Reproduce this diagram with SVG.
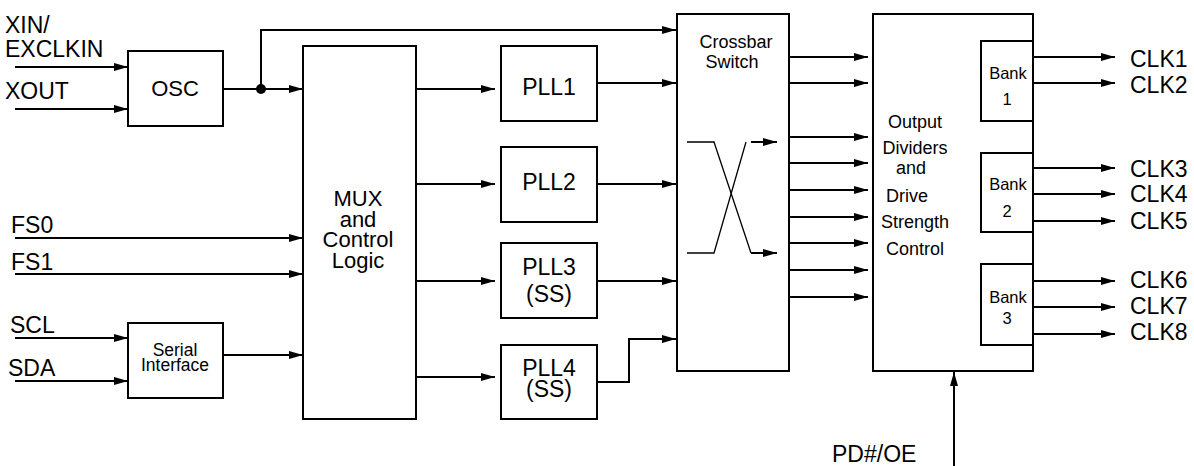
<svg xmlns="http://www.w3.org/2000/svg" width="1194" height="466" viewBox="0 0 1194 466">
<style>
.box{fill:#fff;stroke:#000;stroke-width:2}
.ln{fill:none;stroke:#000;stroke-width:2}
.arr{fill:none;stroke:#000;stroke-width:2;marker-end:url(#ah)}
.thin{fill:none;stroke:#000;stroke-width:1.3}
text{font-family:"Liberation Sans",Arial,sans-serif;fill:#000}
.t23{font-size:23px}
.t22{font-size:22px;text-anchor:middle}
.t18{font-size:18px;text-anchor:middle}
.t17{font-size:16.5px;text-anchor:middle}
</style>
<defs>
<marker id="ah" markerUnits="userSpaceOnUse" markerWidth="14" markerHeight="8" refX="14" refY="4" orient="auto">
<path d="M0,0 L14,4 L0,8 z" fill="#000"/>
</marker>
</defs>
<rect width="1194" height="466" fill="#fff"/>

<g id="labels">
<text class="t23" x="5" y="33">XIN/</text>
<text class="t23" x="5" y="57">EXCLKIN</text>
<text class="t23" x="5" y="99">XOUT</text>
<text class="t23" x="11" y="233">FS0</text>
<text class="t23" x="11" y="270">FS1</text>
<text class="t23" x="10" y="333">SCL</text>
<text class="t23" x="8" y="376">SDA</text>
<text class="t23" x="1130" y="67">CLK1</text>
<text class="t23" x="1130" y="93">CLK2</text>
<text class="t23" x="1130" y="177">CLK3</text>
<text class="t23" x="1130" y="202">CLK4</text>
<text class="t23" x="1130" y="229">CLK5</text>
<text class="t23" x="1130" y="288">CLK6</text>
<text class="t23" x="1130" y="314">CLK7</text>
<text class="t23" x="1130" y="340">CLK8</text>
<text class="t23" x="832" y="462">PD#/OE</text>
</g>

<g id="osc">
<rect class="box" x="128" y="51" width="95" height="75"/>
<text class="t22" x="175" y="96">OSC</text>
</g>

<g id="serial">
<rect class="box" x="128" y="323" width="95" height="75"/>
<text class="t18" x="175" y="356" style="font-size:17.5px">Serial</text>
<text class="t18" x="175" y="371" style="font-size:17.5px">Interface</text>
</g>

<g id="mux">
<rect class="box" x="303" y="46" width="113" height="373"/>
<text class="t22" x="358" y="206">MUX</text>
<text class="t22" x="358" y="227">and</text>
<text class="t22" x="358" y="247">Control</text>
<text class="t22" x="358" y="268">Logic</text>
</g>

<g id="pll1">
<rect class="box" x="501" y="46" width="96" height="75"/>
<text class="t22" x="549" y="95" style="font-size:23px">PLL1</text>
</g>
<g id="pll2">
<rect class="box" x="501" y="147" width="96" height="75"/>
<text class="t22" x="549" y="190" style="font-size:23px">PLL2</text>
</g>
<g id="pll3">
<rect class="box" x="501" y="243" width="96" height="75"/>
<text class="t22" x="549" y="275" style="font-size:23px">PLL3</text>
<text class="t22" x="549" y="302" style="font-size:23px">(SS)</text>
</g>
<g id="pll4">
<rect class="box" x="501" y="345" width="96" height="74"/>
<text class="t22" x="549" y="376" style="font-size:23px">PLL4</text>
<text class="t22" x="549" y="397" style="font-size:23px">(SS)</text>
</g>

<g id="crossbar">
<rect class="box" x="677" y="14" width="112" height="357"/>
<text class="t18" x="736" y="48">Crossbar</text>
<text class="t18" x="732" y="68">Switch</text>
<path class="thin" d="M687,142 H714 L751,253"/>
<path class="thin" d="M746,142 L714,253 H687"/>
<path class="arr" d="M751,142 H777"/>
<path class="arr" d="M751,253 H777"/>
</g>

<g id="output">
<rect class="box" x="873" y="14" width="160" height="357"/>
<text class="t18" x="915" y="128">Output</text>
<text class="t18" x="915" y="154">Dividers</text>
<text class="t18" x="911" y="174">and</text>
<text class="t18" x="907" y="202">Drive</text>
<text class="t18" x="915" y="228">Strength</text>
<text class="t18" x="915" y="255">Control</text>
</g>

<g id="bank1">
<rect class="box" x="981" y="41" width="52" height="80"/>
<text class="t17" x="1008" y="79">Bank</text>
<text class="t17" x="1007" y="105">1</text>
</g>
<g id="bank2">
<rect class="box" x="981" y="153" width="52" height="79"/>
<text class="t17" x="1008" y="190">Bank</text>
<text class="t17" x="1007" y="217">2</text>
</g>
<g id="bank3">
<rect class="box" x="981" y="264" width="52" height="81"/>
<text class="t17" x="1008" y="303">Bank</text>
<text class="t17" x="1007" y="324">3</text>
</g>

<g id="connectors">
<path class="arr" d="M15,67 H128"/>
<path class="arr" d="M15,109 H128"/>
<path class="arr" d="M223,89 H303"/>
<circle cx="261" cy="89" r="5" fill="#000"/>
<path class="arr" d="M261,89 V30 H676"/>
<path class="arr" d="M15,238 H303"/>
<path class="arr" d="M15,274 H303"/>
<path class="arr" d="M15,338 H128"/>
<path class="arr" d="M15,381 H128"/>
<path class="arr" d="M223,355 H303"/>
<path class="arr" d="M416,89 H495"/>
<path class="arr" d="M416,184 H495"/>
<path class="arr" d="M416,281 H495"/>
<path class="arr" d="M416,377 H495"/>
<path class="arr" d="M597,83 H676"/>
<path class="arr" d="M597,184 H676"/>
<path class="arr" d="M597,281 H676"/>
<path class="arr" d="M597,382 H629 V339 H676"/>
<path class="arr" d="M789,57 H868"/>
<path class="arr" d="M789,83 H868"/>
<path class="arr" d="M789,137 H868"/>
<path class="arr" d="M789,163 H868"/>
<path class="arr" d="M789,190 H868"/>
<path class="arr" d="M789,217 H868"/>
<path class="arr" d="M789,243 H868"/>
<path class="arr" d="M789,270 H868"/>
<path class="arr" d="M789,297 H868"/>
<path class="arr" d="M1033,57 H1115"/>
<path class="arr" d="M1033,83 H1115"/>
<path class="arr" d="M1033,168 H1115"/>
<path class="arr" d="M1033,194 H1115"/>
<path class="arr" d="M1033,221 H1115"/>
<path class="arr" d="M1033,281 H1115"/>
<path class="arr" d="M1033,307 H1115"/>
<path class="arr" d="M1033,334 H1115"/>
<path class="arr" d="M954,466 V372"/>
</g>
</svg>
